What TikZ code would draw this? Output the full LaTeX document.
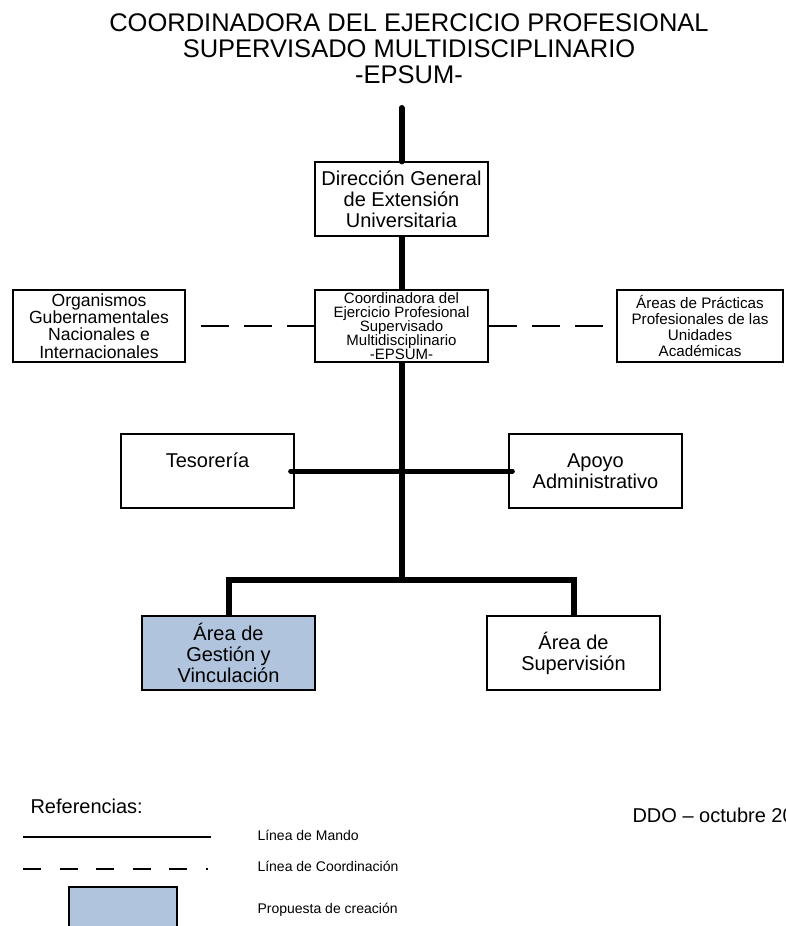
\documentclass[tikz,border=0pt]{standalone}
\usepackage{fontspec}
\setmainfont{Liberation Sans}
\usepackage{xcolor}
\usetikzlibrary{positioning}

\definecolor{propuesta}{RGB}{176,196,222}

\tikzset{
  unidad/.style={draw, line width=1.3pt, align=center, inner sep=0pt,
    minimum width=173pt, minimum height=74pt,
    font=\fontsize{20}{21}\selectfont},
  mando/.style={line width=6pt},
  coordlinea/.style={line width=1.3pt, dash pattern=on 28pt off 15pt},
  leyenda/.style={anchor=west, font=\fontsize{14}{15}\selectfont},
}

\begin{document}
\begin{tikzpicture}[x=1pt, y=-1pt]
\useasboundingbox (0,0) rectangle (785,926);
\clip (0,0) rectangle (785,926);

% titulo
\node[align=center, font=\fontsize{25.5}{26}\selectfont] (titulo) at (409,49)
  {COORDINADORA DEL EJERCICIO PROFESIONAL\\SUPERVISADO MULTIDISCIPLINARIO\\-EPSUM-};

% unidades
\node[unidad] (dir) at (401.5,199) {Dirección General\\de Extensión\\Universitaria};
\node[unidad, minimum height=72pt, font=\fontsize{15}{14}\selectfont] (epsum) at (401.5,326)
  {Coordinadora del\\Ejercicio Profesional\\Supervisado\\Multidisciplinario\\-EPSUM-};
\node[unidad, minimum width=172pt, minimum height=72pt, font=\fontsize{17.6}{17.3}\selectfont] (org) at (99,326)
  {Organismos\\Gubernamentales\\Nacionales e\\Internacionales};
\node[unidad, minimum width=166pt, minimum height=72pt, font=\fontsize{15.2}{16.3}\selectfont] (areas) at (700,326)
  {Áreas de Prácticas\\Profesionales de las\\Unidades\\Académicas};
\node[unidad] (teso) at (207.5,471) {Tesorería\\\mbox{}};
\node[unidad] (apoyo) at (595.5,471) {Apoyo\\Administrativo};
\node[unidad, fill=propuesta] (gest) at (228.5,653) {Área de\\Gestión y\\Vinculación};
\node[unidad] (sup) at (573.5,653) {Área de\\Supervisión};

\coordinate (arriba) at (401.5,108);
\coordinate (rama) at (401.5,580);

% lineas de mando
\draw[mando, line cap=round] (arriba) -- (dir.north);
\draw[mando] (dir.south) -- (epsum.north);
\draw[mando] (epsum.south) -- (rama);
\draw[line width=5pt, line cap=round] ([xshift=-4pt]teso.east) -- ([xshift=4pt]apoyo.west);
\draw[mando, line join=miter] (gest.north) |- (rama) -| (sup.north);

% lineas de coordinacion
\draw[coordlinea, dash phase=28pt] (org.east) -- (epsum.west);
\draw[coordlinea] (epsum.east) -- (areas.west);

% referencias
\node[anchor=west, font=\fontsize{20}{22}\selectfont] (refs) at (27,806) {Referencias:};
\node[anchor=west, font=\fontsize{20}{22}\selectfont] (ddo) at (629,815) {DDO -- octubre 20};

\coordinate (m1) at (23,837);
\coordinate (m2) at (211,837);
\coordinate (c1) at (23,869);
\coordinate (c2) at (208,869);
\draw[line width=1.8pt] (m1) -- (m2);
\draw[line width=1.8pt, dash pattern=on 18pt off 18.6pt] (c1) -- (c2);
\draw[line width=1.2pt, fill=propuesta] (69,887) rectangle (177,940);

\node[leyenda] (lmando) at (254,835) {Línea de Mando};
\node[leyenda] (lcoord) at (254,866) {Línea de Coordinación};
\node[leyenda] (lprop) at (254,910) {Propuesta de creación};
\end{tikzpicture}
\end{document}
